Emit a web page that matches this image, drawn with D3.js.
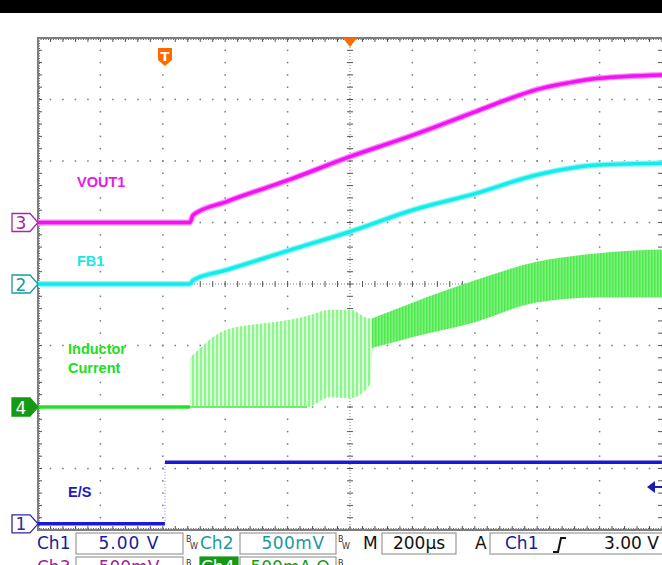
<!DOCTYPE html>
<html><head><meta charset="utf-8">
<script src="https://cdn.jsdelivr.net/npm/d3@7"></script>
<style>body{margin:0;background:#fff}svg{display:block}</style>
</head><body>
<svg id="c" width="662" height="565"></svg>
<script>
// ---- data (time in µs from left edge of screen, values in channel units) ----
const tVout = [0, 487, 497, 605, 808, 1000, 1202, 1401, 1500, 1598, 1700, 1795, 2000];
const vout1 = [0, 0, 0.06, 0.17, 0.35, 0.535, 0.71, 0.90, 0.996, 1.08, 1.135, 1.172, 1.20];
const tFb = [0, 487, 497, 605, 808, 1000, 1202, 1401, 1598, 1795, 2000];
const fb1 = [0, 0, 0.03, 0.114, 0.276, 0.425, 0.602, 0.735, 0.886, 0.967, 0.981];
const tIBase = [0, 487];
const iBase = [0, 0];
const tSpike = [487, 605, 721, 808, 862, 936, 1000, 1064, 1072];
const spikeHi = [0.40, 0.63, 0.68, 0.71, 0.74, 0.79, 0.79, 0.72, 0.72];
const spikeLo = [0, 0, 0, 0, 0, 0.08, 0.07, 0.18, 0.48];
const tBand = [1070, 1202, 1401, 1598, 1795, 2000];
const bandHi = [0.72, 0.85, 1.03, 1.18, 1.25, 1.28];
const bandLo = [0.48, 0.57, 0.69, 0.85, 0.89, 0.89];
const tEs = [0, 407, 407, 2000];
const es = [0, 0, 5, 5];
const statusRow1 = [["Ch1","5.00 V"],["Ch2","500mV"]];
const timebase = "200µs";
const trigText = ["Ch1", "3.00 V"];
const statusRow2 = [["Ch3","500mV"],["Ch4","500mA Ω"]];

const svg = d3.select("#c");
const X0 = 38, X1 = 662, Y0 = 38, Y1 = 530;
const x = d3.scaleLinear().domain([0, 2000]).range([X0, X1]);
const yDiv = d3.scaleLinear().domain([-4, 4]).range([Y1, Y0]);
const chan = {
  c1: {perDiv: 5, off: -3.9},
  c2: {perDiv: 0.5, off: 0},
  c3: {perDiv: 0.5, off: 1},
  c4: {perDiv: 0.5, off: -2}
};
const yc = c => v => yDiv(chan[c].off + v / chan[c].perDiv);

// top black bar
svg.append("rect").attr("x",0).attr("y",0).attr("width",662).attr("height",13).attr("fill","#000");

// graticule
const g = svg.append("g");
const minorX = d3.range(0, 50.001, 1).map(i => X0 + i * (X1 - X0) / 50);
const minorY = d3.range(0, 40.001, 1).map(i => Y0 + i * (Y1 - Y0) / 40);
const gridCol = "#7a7a7a";
[1,2,3,4,6,7,8,9].forEach(k => {
  const gx = x(k * 200);
  minorY.forEach(py => g.append("rect").attr("x", gx-0.75).attr("y", py-0.75).attr("width",1.5).attr("height",1.5).attr("fill",gridCol));
});
[-3,-2,-1,1,2,3].forEach(k => {
  const gy = yDiv(k);
  minorX.forEach(px => g.append("rect").attr("x", px-0.75).attr("y", gy-0.75).attr("width",1.5).attr("height",1.5).attr("fill",gridCol));
});
const cx = x(1000), cy = yDiv(0);
g.append("line").attr("x1",cx).attr("x2",cx).attr("y1",Y0).attr("y2",Y1).attr("stroke",gridCol).attr("stroke-width",1).attr("stroke-dasharray","1,2");
g.append("line").attr("y1",cy).attr("y2",cy).attr("x1",X0).attr("x2",X1).attr("stroke",gridCol).attr("stroke-width",1).attr("stroke-dasharray","1,2");
minorY.forEach(py => g.append("line").attr("x1",cx-3).attr("x2",cx+3).attr("y1",py).attr("y2",py).attr("stroke","#555").attr("stroke-width",1));
minorX.forEach(px => g.append("line").attr("x1",px).attr("x2",px).attr("y1",cy-3).attr("y2",cy+3).attr("stroke","#555").attr("stroke-width",1));
minorX.forEach(px => {
  g.append("line").attr("x1",px).attr("x2",px).attr("y1",Y0).attr("y2",Y0+4).attr("stroke","#555");
  g.append("line").attr("x1",px).attr("x2",px).attr("y1",Y1).attr("y2",Y1-4).attr("stroke","#555");
});
minorY.forEach(py => {
  g.append("line").attr("x1",X0).attr("x2",X0+4).attr("y1",py).attr("y2",py).attr("stroke","#555");
  g.append("line").attr("x1",X1).attr("x2",X1-4).attr("y1",py).attr("y2",py).attr("stroke","#555");
});
g.append("line").attr("x1",X0).attr("x2",X1).attr("y1",Y0+1.5).attr("y2",Y0+1.5).attr("stroke","#666").attr("stroke-width",1).attr("stroke-dasharray","1,1.5");
g.append("line").attr("x1",X0).attr("x2",X1).attr("y1",Y1-1.5).attr("y2",Y1-1.5).attr("stroke","#666").attr("stroke-width",1).attr("stroke-dasharray","1,1.5");
g.append("line").attr("x1",X0+1.5).attr("x2",X0+1.5).attr("y1",Y0).attr("y2",Y1).attr("stroke","#666").attr("stroke-width",1).attr("stroke-dasharray","1,1.5");
g.append("rect").attr("x",X0).attr("y",Y0).attr("width",X1-X0+2).attr("height",Y1-Y0).attr("fill","none").attr("stroke","#7d7d7d").attr("stroke-width",2);

// patterns
const defs = svg.append("defs");
const p1 = defs.append("pattern").attr("id","spk").attr("patternUnits","userSpaceOnUse").attr("width",4).attr("height",10);
p1.append("rect").attr("width",4).attr("height",10).attr("fill","#d6fbd6");
p1.append("rect").attr("x",0).attr("width",2).attr("height",10).attr("fill","#8cf78c");
const p2 = defs.append("pattern").attr("id","band").attr("patternUnits","userSpaceOnUse").attr("width",3).attr("height",10);
p2.append("rect").attr("width",3).attr("height",10).attr("fill","#7cf27c");
p2.append("rect").attr("x",0).attr("width",1.5).attr("height",10).attr("fill","#4fe94f");

// inductor current
const y4 = yc("c4");
const area = d3.area().curve(d3.curveMonotoneX);
svg.append("path").attr("d", area.x((d,i)=>x(tSpike[i])).y0((d,i)=>y4(spikeLo[i])).y1(d=>y4(d))(spikeHi)).attr("fill","url(#spk)");
svg.append("path").attr("d", area.x((d,i)=>x(tBand[i])).y0((d,i)=>y4(bandLo[i])).y1(d=>y4(d))(bandHi)).attr("fill","url(#band)");
svg.append("path").attr("d", d3.line().x((d,i)=>x(tIBase[i])).y(d=>y4(d))(iBase)).attr("fill","none").attr("stroke","#22e022").attr("stroke-width",3.5);
svg.append("path").attr("d", d3.line().x((d,i)=>x(tSpike[i])).y(d=>y4(0))(tSpike.slice(0,5))).attr("fill","none").attr("stroke","#6af06a").attr("stroke-width",2);

// FB1
const y2 = yc("c2");
const fbPath = d3.line().curve(d3.curveMonotoneX).x((d,i)=>x(tFb[i])).y(d=>y2(d))(fb1);
svg.append("path").attr("d",fbPath).attr("fill","none").attr("stroke","#8ff7f7").attr("stroke-width",6);
svg.append("path").attr("d",fbPath).attr("fill","none").attr("stroke","#14ecec").attr("stroke-width",3.5);
// VOUT1
const y3 = yc("c3");
const vPath = d3.line().curve(d3.curveMonotoneX).x((d,i)=>x(tVout[i])).y(d=>y3(d))(vout1);
svg.append("path").attr("d",vPath).attr("fill","none").attr("stroke","#ff8cff").attr("stroke-width",6);
svg.append("path").attr("d",vPath).attr("fill","none").attr("stroke","#f014f0").attr("stroke-width",3.5);
// E/S : horizontal segments solid, transitions faint dotted
const y1 = yc("c1");
for (let i = 0; i < tEs.length - 1; i++) {
  const seg = svg.append("line").attr("x1",x(tEs[i])).attr("x2",x(tEs[i+1])).attr("y1",y1(es[i])).attr("y2",y1(es[i+1]));
  if (tEs[i] === tEs[i+1]) seg.attr("stroke","#8080e0").attr("stroke-width",1).attr("stroke-dasharray","1,2");
  else seg.attr("stroke","#1a1ad6").attr("stroke-width",3.5);
}

// trace labels
const lab = (t,xx,yy,col) => svg.append("text").attr("x",xx).attr("y",yy).attr("fill",col)
  .attr("font-family","Liberation Sans, Arial, sans-serif").attr("font-weight","bold").attr("font-size",14.5).text(t);
lab("VOUT1",77,187,"#e619e6");
lab("FB1",77,266,"#19e6e6");
lab("Inductor",68,354,"#22dd22");
lab("Current",68,373,"#22dd22");
lab("E/S",68,497,"#1a1acc");

// channel markers
function marker(num, yy, col, filled) {
  const gg = svg.append("g");
  const p = `M12,${yy-9} L30,${yy-9} L38,${yy} L30,${yy+9} L12,${yy+9} Z`;
  gg.append("path").attr("d",p).attr("fill",filled?col:"#fff").attr("stroke",col).attr("stroke-width",1.3);
  gg.append("text").attr("x",21).attr("y",yy+6.5).attr("text-anchor","middle").attr("fill",filled?"#fff":col)
    .attr("font-family","DejaVu Sans, sans-serif").attr("font-size",17).text(num);
}
marker("3", y3(0), "#a626a6", false);
marker("2", y2(0), "#1a9a9a", false);
marker("4", y4(0), "#159a15", true);
marker("1", y1(0), "#2a2aa0", false);

// trigger markers
svg.append("path").attr("d",`M${cx-7},38 L${cx+7},38 L${cx},47 Z`).attr("fill","#ff6a00");
const tx = x(407);
svg.append("path").attr("d",`M${tx-7},48 L${tx+7},48 L${tx+7},60 L${tx},66 L${tx-7},60 Z`).attr("fill","#ff6a00");
svg.append("text").attr("x",tx).attr("y",61).attr("text-anchor","middle").attr("fill","#fff")
  .attr("font-family","DejaVu Sans, sans-serif").attr("font-weight","bold").attr("font-size",13).text("T");
const trigY = y1(3.00);
svg.append("path").attr("d",`M647,${trigY} L655,${trigY-6} L655,${trigY+6} Z`).attr("fill","#1a1ab0");
svg.append("line").attr("x1",654).attr("x2",662).attr("y1",trigY).attr("y2",trigY).attr("stroke","#1a1ab0").attr("stroke-width",2);

// status bar
const sf = "DejaVu Sans, Verdana, sans-serif";
const st = (t,xx,yy,col,fs,anchor) => svg.append("text").attr("x",xx).attr("y",yy).attr("fill",col)
  .attr("font-family",sf).attr("font-size",fs||17).attr("text-anchor",anchor||"start").text(t);
const box = (x0,y0,w,h,fill,stroke) => svg.append("rect").attr("x",x0).attr("y",y0).attr("width",w).attr("height",h).attr("fill",fill||"#fff").attr("stroke",stroke||"#9a9a9a").attr("stroke-width",1.2);
st(statusRow1[0][0],37,549,"#1a1a9a");
box(76,533,107,21);
st(statusRow1[0][1],129,549,"#1a1a9a",17,"middle").attr("letter-spacing",1);
st("B",186,542,"#333",8); st("W",190,549,"#333",8);
st(statusRow1[1][0],200,549,"#1a9a9a");
box(240,533,96,21);
st(statusRow1[1][1],293,549,"#1a9a9a",17,"middle").attr("letter-spacing",0.5);
st("B",338,542,"#333",8); st("W",342,549,"#333",8);
st("M",363,549,"#111");
box(382,533,74,21);
st(timebase,419,549,"#111",17,"middle");
st("A",475,549,"#111");
box(490,533,180,21);
st(trigText[0],505,549,"#1a1a9a");
svg.append("path").attr("d","M553,552 L558,552 L561,538 L566,538").attr("fill","none").attr("stroke","#111").attr("stroke-width",2);
st(trigText[1],604,549,"#111");
st(statusRow2[0][0],37,573,"#a020a0");
box(76,557,107,21);
st(statusRow2[0][1],129,573,"#a020a0",17,"middle");
st("B",186,566,"#333",8);
box(200,557,38,21,"#169a16","#169a16");
st(statusRow2[1][0],201,573,"#fff");
box(240,557,96,21);
st(statusRow2[1][1],290,573,"#169a16",17,"middle");
st("B",338,566,"#333",8);
</script>
</body></html>
